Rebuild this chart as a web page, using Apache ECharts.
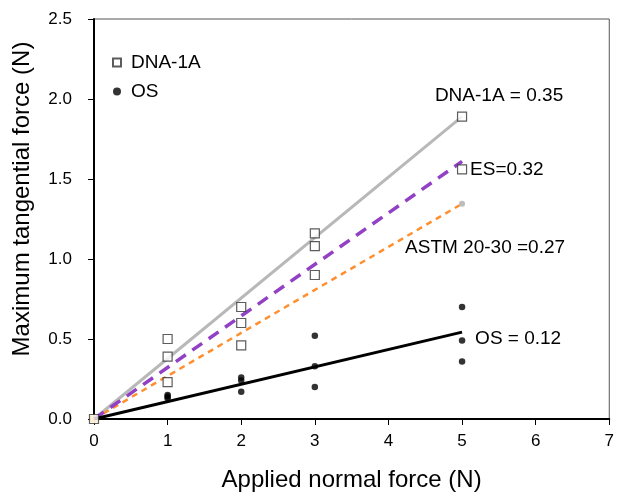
<!DOCTYPE html>
<html><head><meta charset="utf-8">
<script src="https://cdn.jsdelivr.net/npm/echarts@6/dist/echarts.min.js"></script>
<style>html,body{margin:0;padding:0;background:#fff}#c{width:617px;height:497px}</style>
</head><body><div id="c"></div>
<script>
// Data
var dnaX = [0, 1, 1, 1, 2, 2, 2, 3, 3, 3, 5, 5];
var dnaY = [0, 0.50, 0.39, 0.23, 0.70, 0.60, 0.46, 1.16, 1.08, 0.90, 1.89, 1.56];
var osX = [1, 1, 1, 2, 2, 2, 3, 3, 3, 5, 5, 5];
var osY = [0.15, 0.14, 0.13, 0.26, 0.24, 0.17, 0.52, 0.33, 0.20, 0.70, 0.49, 0.36];
var fitX = [0, 5];
var fitDNA = [0, 1.89];
var fitES = [0, 1.61];
var fitASTM = [0, 1.345];
var fitOS = [0, 0.543];
var labelDNA = 'DNA-1A = 0.35';
var labelES = 'ES=0.32';
var labelASTM = 'ASTM 20-30 =0.27';
var labelOS = 'OS = 0.12';
var xTicks = [0, 1, 2, 3, 4, 5, 6, 7];
var yTicks = [0, 0.5, 1.0, 1.5, 2.0, 2.5];

function pairs(xs, ys) { return xs.map(function (x, i) { return [x, ys[i]]; }); }
var FONT = 'Liberation Sans, Arial, sans-serif';
var chart = echarts.init(document.getElementById('c'));

function fitLine(name, ys, color, width, type, label, lblOpts, z, endSym) {
  var data = pairs(fitX, ys).map(function (p, i) {
    var d = { value: p, symbol: 'none' };
    if (i === 1) {
      d.symbol = 'circle'; d.symbolSize = 0.1;
      d.label = Object.assign({ show: true, formatter: label, color: '#000', fontSize: 19, lineHeight: 19, fontFamily: FONT }, lblOpts);
      if (endSym) { d.symbolSize = endSym.size; d.itemStyle = { color: endSym.color }; }
    }
    return d;
  });
  return {
    name: name, type: 'line', data: data, z: z, silent: true,
    lineStyle: { color: color, width: width, type: type },
    itemStyle: { color: color },
    showSymbol: true, animation: false
  };
}

var astm = fitLine('ASTM', fitASTM, '#ff8f2e', 2.5, [6, 5], labelASTM, { position: 'bottom', distance: 0, offset: [23, 31] }, 3, { size: 6, color: '#bdbdbd' });
astm.data[0].symbol = 'circle'; astm.data[0].symbolSize = 8; astm.data[0].itemStyle = { color: '#f2a81c' };

chart.setOption({
  animation: false,
  textStyle: { fontFamily: FONT },
  grid: { left: 94, right: 7, top: 19, bottom: 78, show: true, borderColor: '#555', borderWidth: 1 },
  legend: {
    data: ['DNA-1A', 'OS'], orient: 'vertical', left: 107, top: 48,
    itemWidth: 8, itemHeight: 8, itemGap: 10,
    textStyle: { fontSize: 19, color: '#000', fontFamily: FONT, lineHeight: 19, padding: [0, 0, 0, 5] }
  },
  xAxis: {
    type: 'value', min: 0, max: 7, interval: 1,
    name: 'Applied normal force (N)', nameLocation: 'middle', nameGap: 49,
    nameTextStyle: { fontSize: 24, color: '#000', fontFamily: FONT },
    axisLine: { lineStyle: { color: '#000', width: 2 } },
    axisTick: { show: true, inside: false, length: 6, lineStyle: { color: '#000', width: 1 } },
    axisLabel: { fontSize: 17, color: '#000', margin: 14, fontFamily: FONT, formatter: function (v) { return xTicks.indexOf(v) >= 0 ? String(v) : ''; } },
    splitLine: { show: false }
  },
  yAxis: {
    type: 'value', min: 0, max: 2.5, interval: 0.5,
    name: 'Maximum tangential force (N)', nameLocation: 'middle', nameGap: 60,
    nameTextStyle: { fontSize: 24, color: '#000', fontFamily: FONT, padding: [0, 0, 0, 40] },
    axisLine: { show: true, lineStyle: { color: '#000', width: 2 } },
    axisTick: { show: true, inside: false, length: 6, lineStyle: { color: '#000', width: 1 } },
    axisLabel: { fontSize: 17, color: '#000', margin: 22, fontFamily: FONT, formatter: function (v) { return yTicks.indexOf(v) >= 0 ? v.toFixed(1) : ''; } },
    splitLine: { show: false }
  },
  series: [
    fitLine('fitDNA', fitDNA, '#b8b8b8', 3, 'solid', labelDNA, { position: 'top', distance: 5, offset: [37, -6] }, 2),
    fitLine('fitES', fitES, '#9241c4', 3.5, [12, 8], labelES, { position: 'right', distance: 8, offset: [0, 8] }, 4),
    astm,
    fitLine('fitOS', fitOS, '#000', 3, 'solid', labelOS, { position: 'right', distance: 13, offset: [0, 7] }, 5),
    {
      name: 'DNA-1A', type: 'scatter', data: pairs(dnaX, dnaY), symbol: 'rect', symbolSize: 9, z: 6,
      itemStyle: { color: '#fff', borderColor: '#333', borderWidth: 1.2 }
    },
    {
      name: 'OS', type: 'scatter', data: pairs(osX, osY), symbol: 'circle', symbolSize: 6.5, z: 6,
      itemStyle: { color: '#000' }
    }
  ]
});
</script></body></html>
